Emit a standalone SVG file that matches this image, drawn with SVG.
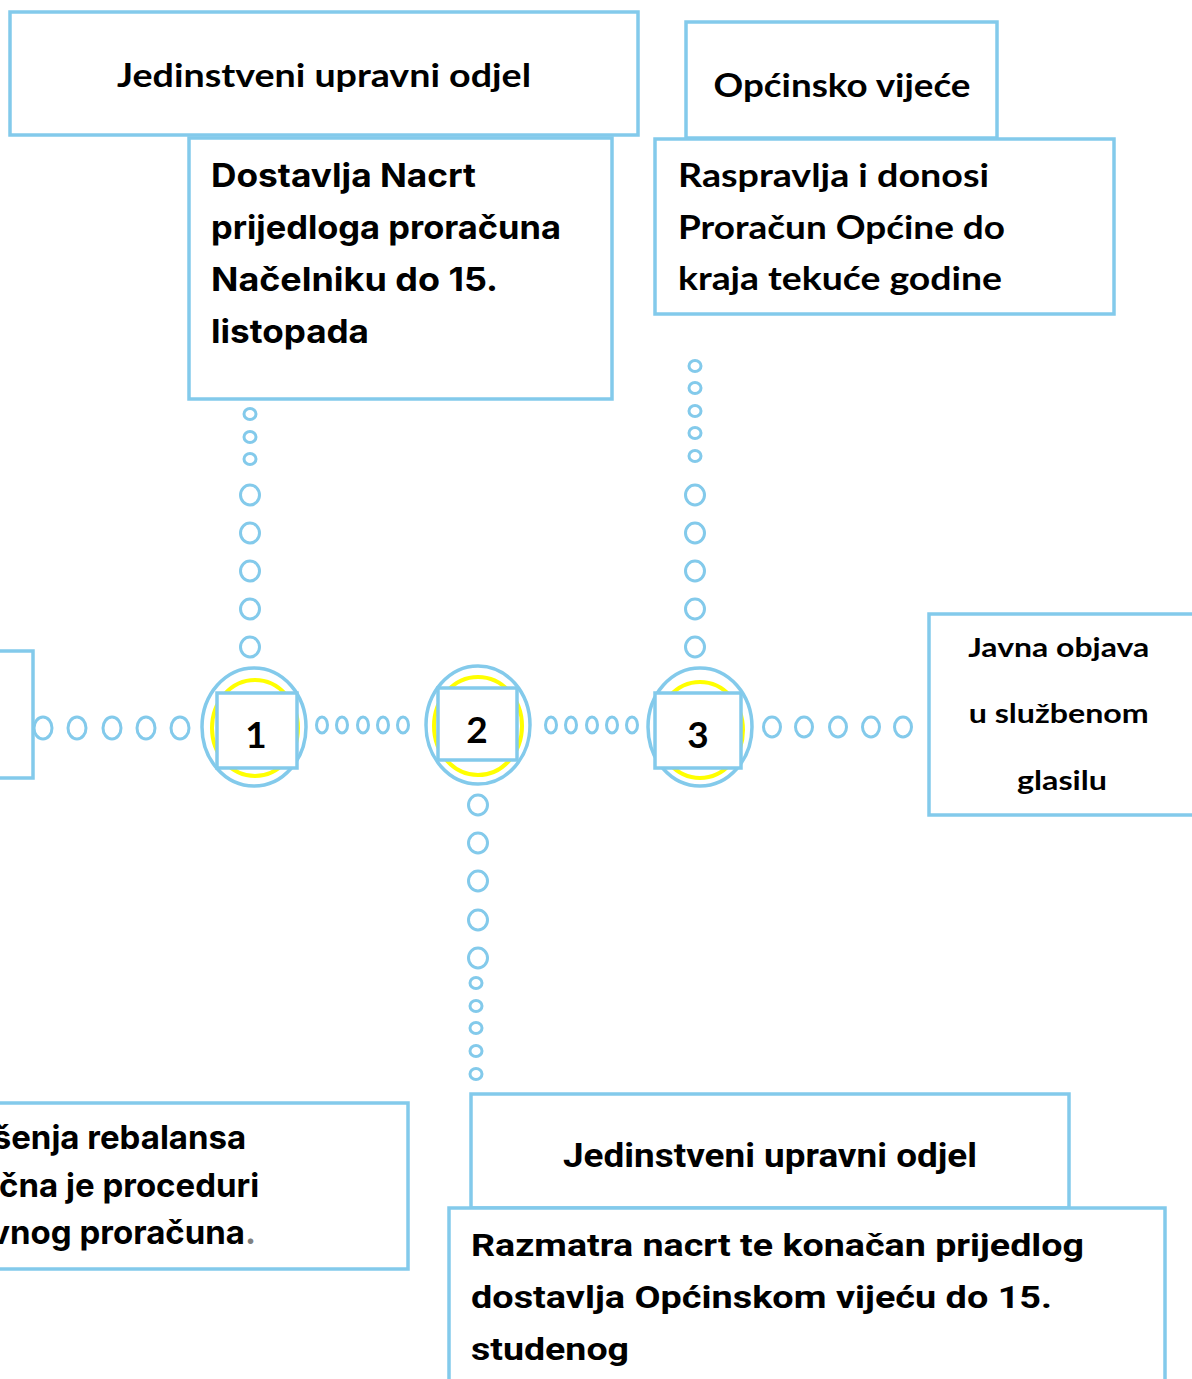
<svg xmlns="http://www.w3.org/2000/svg" width="1192" height="1379" viewBox="0 0 1192 1379">
<style>
.box{fill:#fff;stroke:#83CAEB;stroke-width:3.5}
.ring{fill:none;stroke:#83CAEB;stroke-width:3.5}
.yel{fill:none;stroke:#FFFF00;stroke-width:4}
.sq{fill:#fff;stroke:#83CAEB;stroke-width:3.5}
.dot{fill:none;stroke:#83CAEB;stroke-width:3}
.cal{font-family:Lato,"Open Sans","Liberation Sans",sans-serif;font-weight:bold;fill:#000}
.pub{font-family:Inter,"Noto Sans","Liberation Sans",sans-serif;font-weight:bold;fill:#000}
.cond{font-family:Roboto,"Liberation Sans",sans-serif;font-weight:bold;fill:#000}
</style>
<rect width="1192" height="1379" fill="#fff"/>

<g id="connectors">
  <ellipse class="dot" cx="43" cy="728" rx="9" ry="11"/>
  <ellipse class="dot" cx="77" cy="728" rx="9" ry="11"/>
  <ellipse class="dot" cx="112" cy="728" rx="9" ry="11"/>
  <ellipse class="dot" cx="146" cy="728" rx="9" ry="11"/>
  <ellipse class="dot" cx="180" cy="728" rx="9" ry="11"/>
  <ellipse class="dot" cx="322" cy="725" rx="5.5" ry="8"/>
  <ellipse class="dot" cx="342" cy="725" rx="5.5" ry="8"/>
  <ellipse class="dot" cx="363" cy="725" rx="5.5" ry="8"/>
  <ellipse class="dot" cx="383" cy="725" rx="5.5" ry="8"/>
  <ellipse class="dot" cx="403" cy="725" rx="5.5" ry="8"/>
  <ellipse class="dot" cx="551" cy="725" rx="5.5" ry="8"/>
  <ellipse class="dot" cx="571" cy="725" rx="5.5" ry="8"/>
  <ellipse class="dot" cx="592" cy="725" rx="5.5" ry="8"/>
  <ellipse class="dot" cx="612" cy="725" rx="5.5" ry="8"/>
  <ellipse class="dot" cx="632" cy="725" rx="5.5" ry="8"/>
  <ellipse class="dot" cx="772" cy="727" rx="8.5" ry="10"/>
  <ellipse class="dot" cx="804" cy="727" rx="8.5" ry="10"/>
  <ellipse class="dot" cx="838" cy="727" rx="8.5" ry="10"/>
  <ellipse class="dot" cx="871" cy="727" rx="8.5" ry="10"/>
  <ellipse class="dot" cx="903" cy="727" rx="8.5" ry="10"/>
  <ellipse class="dot" cx="250" cy="414" rx="6" ry="5.5"/>
  <ellipse class="dot" cx="250" cy="437" rx="6" ry="5.5"/>
  <ellipse class="dot" cx="250" cy="459" rx="6" ry="5.5"/>
  <ellipse class="dot" cx="250" cy="495" rx="9.5" ry="10"/>
  <ellipse class="dot" cx="250" cy="533" rx="9.5" ry="10"/>
  <ellipse class="dot" cx="250" cy="571" rx="9.5" ry="10"/>
  <ellipse class="dot" cx="250" cy="609" rx="9.5" ry="10"/>
  <ellipse class="dot" cx="250" cy="647" rx="9.5" ry="10"/>
  <ellipse class="dot" cx="695" cy="366" rx="6" ry="5.5"/>
  <ellipse class="dot" cx="695" cy="388" rx="6" ry="5.5"/>
  <ellipse class="dot" cx="695" cy="411" rx="6" ry="5.5"/>
  <ellipse class="dot" cx="695" cy="433" rx="6" ry="5.5"/>
  <ellipse class="dot" cx="695" cy="456" rx="6" ry="5.5"/>
  <ellipse class="dot" cx="695" cy="495" rx="9.5" ry="10"/>
  <ellipse class="dot" cx="695" cy="533" rx="9.5" ry="10"/>
  <ellipse class="dot" cx="695" cy="571" rx="9.5" ry="10"/>
  <ellipse class="dot" cx="695" cy="609" rx="9.5" ry="10"/>
  <ellipse class="dot" cx="695" cy="647" rx="9.5" ry="10"/>
  <ellipse class="dot" cx="478" cy="805" rx="9.5" ry="10"/>
  <ellipse class="dot" cx="478" cy="843" rx="9.5" ry="10"/>
  <ellipse class="dot" cx="478" cy="881" rx="9.5" ry="10"/>
  <ellipse class="dot" cx="478" cy="920" rx="9.5" ry="10"/>
  <ellipse class="dot" cx="478" cy="958" rx="9.5" ry="10"/>
  <ellipse class="dot" cx="476" cy="983" rx="6" ry="5.5"/>
  <ellipse class="dot" cx="476" cy="1006" rx="6" ry="5.5"/>
  <ellipse class="dot" cx="476" cy="1028" rx="6" ry="5.5"/>
  <ellipse class="dot" cx="476" cy="1051" rx="6" ry="5.5"/>
  <ellipse class="dot" cx="476" cy="1074" rx="6" ry="5.5"/>
</g>

<g id="box-jud-top">
  <rect class="box" x="10" y="12" width="628" height="123"/>
  <text class="cal" x="324" y="87" font-size="33" text-anchor="middle" textLength="414" lengthAdjust="spacingAndGlyphs">Jedinstveni upravni odjel</text>
</g>
<g id="box-dostavlja">
  <rect class="box" x="189" y="138" width="423" height="261"/>
  <text class="pub" font-size="33">
    <tspan x="211" y="187" textLength="265" lengthAdjust="spacingAndGlyphs">Dostavlja Nacrt</tspan>
    <tspan x="211" y="239" textLength="350" lengthAdjust="spacingAndGlyphs">prijedloga proračuna</tspan>
    <tspan x="211" y="291" textLength="286" lengthAdjust="spacingAndGlyphs">Načelniku do 15.</tspan>
    <tspan x="211" y="343" textLength="158" lengthAdjust="spacingAndGlyphs">listopada</tspan>
  </text>
</g>
<g id="box-vijece">
  <rect class="box" x="686" y="22" width="311" height="116"/>
  <text class="cal" x="842" y="97" font-size="33" text-anchor="middle" textLength="257" lengthAdjust="spacingAndGlyphs">Općinsko vijeće</text>
</g>
<g id="box-raspravlja">
  <rect class="box" x="655" y="139" width="459" height="175"/>
  <text class="cal" font-size="33">
    <tspan x="678" y="187" textLength="311" lengthAdjust="spacingAndGlyphs">Raspravlja i donosi</tspan>
    <tspan x="678" y="239" textLength="327" lengthAdjust="spacingAndGlyphs">Proračun Općine do</tspan>
    <tspan x="678" y="290" textLength="324" lengthAdjust="spacingAndGlyphs">kraja tekuće godine</tspan>
  </text>
</g>
<g id="box-javna">
  <rect class="box" x="929" y="614" width="275" height="201"/>
  <text class="cal" font-size="27" text-anchor="middle">
    <tspan x="1062" y="657" textLength="181" lengthAdjust="spacingAndGlyphs">Javna objava</tspan>
    <tspan x="1062" y="723" textLength="180" lengthAdjust="spacingAndGlyphs">u službenom</tspan>
    <tspan x="1062" y="790" textLength="90" lengthAdjust="spacingAndGlyphs">glasilu</tspan>
  </text>
</g>
<g id="box-left">
  <rect class="box" x="-20" y="651" width="53" height="127"/>
</g>
<g id="box-rebalans">
  <rect class="box" x="-20" y="1103" width="428" height="166"/>
  <text class="pub" font-size="33" text-anchor="end">
    <tspan x="254" y="1149">šenja rebalansa</tspan>
    <tspan x="267" y="1197">čna je proceduri</tspan>
    <tspan x="256" y="1244">vnog proračuna<tspan fill="#808080">.</tspan></tspan>
  </text>
</g>
<g id="box-jud-bottom">
  <rect class="box" x="471" y="1094" width="598" height="114"/>
  <text class="cond" x="770" y="1167" font-size="33" text-anchor="middle" textLength="414" lengthAdjust="spacingAndGlyphs">Jedinstveni upravni odjel</text>
</g>
<g id="box-razmatra">
  <rect class="box" x="449" y="1208" width="716" height="190"/>
  <text class="cond" font-size="32">
    <tspan x="471" y="1256" textLength="613" lengthAdjust="spacingAndGlyphs">Razmatra nacrt te konačan prijedlog</tspan>
    <tspan x="471" y="1308" textLength="581" lengthAdjust="spacingAndGlyphs">dostavlja Općinskom vijeću do 15.</tspan>
    <tspan x="471" y="1360" textLength="158" lengthAdjust="spacingAndGlyphs">studenog</tspan>
  </text>
</g>

<g id="node-1">
  <ellipse class="ring" cx="254" cy="727" rx="52" ry="59"/>
  <ellipse class="yel" cx="255" cy="728" rx="43" ry="48"/>
  <rect class="sq" x="217" y="693" width="80" height="75"/>
  <text class="cal" x="256" y="748" font-size="37" font-weight="900" text-anchor="middle">1</text>
</g>
<g id="node-2">
  <ellipse class="ring" cx="478" cy="725" rx="52" ry="59"/>
  <ellipse class="yel" cx="478" cy="726" rx="44" ry="49"/>
  <rect class="sq" x="438" y="688" width="79" height="72"/>
  <text class="cal" x="477" y="743" font-size="37" font-weight="900" text-anchor="middle">2</text>
</g>
<g id="node-3">
  <ellipse class="ring" cx="700" cy="727" rx="52" ry="59"/>
  <ellipse class="yel" cx="700" cy="730" rx="43" ry="48"/>
  <rect class="sq" x="655" y="693" width="86" height="75"/>
  <text class="cal" x="698" y="748" font-size="37" font-weight="900" text-anchor="middle">3</text>
</g>
</svg>
